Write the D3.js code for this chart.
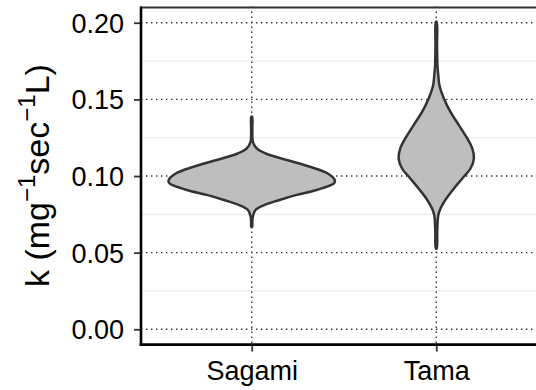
<!DOCTYPE html>
<html>
<head>
<meta charset="utf-8">
<script src="https://cdn.jsdelivr.net/npm/d3@7"></script>
<style>
  body { margin: 0; background: #fff; }
  svg { display: block; font-family: "Liberation Sans", Arial, sans-serif; }
</style>
</head>
<body>
<div id="chart"></div>
<script>
// categories on the x axis
let groups = ["Sagami", "Tama"];

// violin outlines: k value and kernel density at that k
let sagamiK       = [0.1386, 0.1300, 0.1223, 0.1180, 0.1147, 0.1103, 0.1059, 0.1016, 0.0973, 0.0955, 0.0940, 0.0907, 0.0875, 0.0842, 0.0809, 0.0777, 0.0733, 0.0700, 0.0668];
let sagamiDensity = [0.2,    0.3,    0.6,    2.5,    7.0,    18.0,   29.5,   38.0,   41.5,   41.3,   39.5,   32.0,   22.0,   13.5,   6.0,    1.8,    0.5,    0.3,    0.2];

let tamaK       = [0.2006, 0.1850, 0.1720, 0.1658, 0.1590, 0.1506, 0.1418, 0.1332, 0.1245, 0.1180, 0.1114, 0.1049, 0.0984, 0.0918, 0.0853, 0.0788, 0.0744, 0.0650, 0.0527];
let tamaDensity = [0.2,    0.4,    0.6,    1.0,    1.6,    3.8,    7.1,    11.3,   15.5,   18.0,   18.8,   17.1,   13.0,   8.8,    5.0,    2.1,    1.0,    0.5,    0.2];

// axis ticks
let majorTicks = [0.00, 0.05, 0.10, 0.15, 0.20];
let minorTicks = [0.025, 0.075, 0.125, 0.175];

let W = 536, H = 390;

let svg = d3.select("#chart")
  .append("svg")
  .attr("width", W)
  .attr("height", H);

// panel bounds
let pLeft = 141, pRight = 547, pTop = 6.5, pBottom = 344.6;

// y scale (data range 0..0.2006, expanded 5%)
let y = d3.scaleLinear()
  .domain([-0.0100, 0.2106])
  .range([pBottom, pTop]);

// discrete x scale, ggplot style 0.6 expansion
let x = d3.scalePoint()
  .domain(groups)
  .range([pLeft, pRight])
  .padding(0.6);

// violin width: the biggest density fills 0.9 of a category step
let maxDensity = d3.max(sagamiDensity.concat(tamaDensity));
let w = d3.scaleLinear()
  .domain([0, maxDensity])
  .range([0, x.step() * 0.45]);

let violins = [
  { name: "Sagami", pts: sagamiK.map((k, i) => [k, sagamiDensity[i]]) },
  { name: "Tama", pts: tamaK.map((k, i) => [k, tamaDensity[i]]) }
];

// minor grid
svg.append("g")
  .selectAll("line")
  .data(minorTicks)
  .enter().append("line")
  .attr("x1", pLeft).attr("x2", W)
  .attr("y1", d => y(d)).attr("y2", d => y(d))
  .attr("stroke", "#ebebeb")
  .attr("stroke-width", 1.1);

// major grid, dotted
svg.append("g")
  .selectAll("line")
  .data(majorTicks)
  .enter().append("line")
  .attr("x1", pLeft).attr("x2", W)
  .attr("y1", d => y(d)).attr("y2", d => y(d))
  .attr("stroke", "#333")
  .attr("stroke-width", 1.4)
  .attr("stroke-dasharray", "1.4,3.6");

svg.append("g")
  .selectAll("line")
  .data(groups)
  .enter().append("line")
  .attr("x1", d => x(d)).attr("x2", d => x(d))
  .attr("y1", pTop).attr("y2", pBottom)
  .attr("stroke", "#333")
  .attr("stroke-width", 1.4)
  .attr("stroke-dasharray", "1.4,3.6");

// violins
violins.forEach(function (v) {
  let cx = x(v.name);
  let rightSide = v.pts.map(p => [cx + w(p[1]), y(p[0])]);
  let leftSide = v.pts.slice().reverse().map(p => [cx - w(p[1]), y(p[0])]);
  let line = d3.line().curve(d3.curveCatmullRomClosed.alpha(0.5));
  svg.append("path")
    .attr("d", line(rightSide.concat(leftSide)))
    .attr("fill", "#bebebe")
    .attr("stroke", "#333")
    .attr("stroke-width", 2.5)
    .attr("stroke-linejoin", "round");
});

// top border of the panel
svg.append("line")
  .attr("x1", pLeft).attr("x2", W)
  .attr("y1", pTop + 1).attr("y2", pTop + 1)
  .attr("stroke", "#333")
  .attr("stroke-width", 1.8);

// y axis
let yAxis = svg.append("g")
  .attr("transform", "translate(" + pLeft + ",0)")
  .call(d3.axisLeft(y).tickValues(majorTicks).tickFormat(d3.format(".2f")).tickSize(7).tickPadding(10));
yAxis.select(".domain").remove();
yAxis.selectAll(".tick line").attr("stroke", "#333").attr("stroke-width", 1.8);
yAxis.selectAll(".tick text")
  .style("font-size", "27px")
  .style("font-family", "Liberation Sans, Arial, sans-serif")
  .attr("fill", "#000")
  .attr("dy", "0.35em");

// x axis
let xAxis = svg.append("g")
  .attr("transform", "translate(0," + pBottom + ")")
  .call(d3.axisBottom(x).tickSize(7).tickPadding(9));
xAxis.select(".domain").remove();
xAxis.selectAll(".tick line").attr("stroke", "#333").attr("stroke-width", 1.8);
xAxis.selectAll(".tick text")
  .style("font-size", "27px")
  .style("font-family", "Liberation Sans, Arial, sans-serif")
  .attr("fill", "#000");

// axis lines (black, thicker)
svg.append("line")
  .attr("x1", pLeft).attr("x2", pLeft)
  .attr("y1", pTop).attr("y2", pBottom + 1.3)
  .attr("stroke", "#000")
  .attr("stroke-width", 2.6);
svg.append("line")
  .attr("x1", pLeft - 1.3).attr("x2", W)
  .attr("y1", pBottom).attr("y2", pBottom)
  .attr("stroke", "#000")
  .attr("stroke-width", 2.6);

// y axis title with superscripts
let title = svg.append("text")
  .attr("transform", "translate(49," + ((pTop + pBottom) / 2) + ") rotate(-90)")
  .attr("text-anchor", "middle")
  .style("font-size", "34px")
  .attr("fill", "#000");
title.append("tspan").text("k (mg");
title.append("tspan").attr("dy", -14).style("font-size", "24px").text("\u22121");
title.append("tspan").attr("dy", 14).text("sec");
title.append("tspan").attr("dy", -14).style("font-size", "24px").text("\u22121");
title.append("tspan").attr("dy", 14).text("L)");
</script>
</body>
</html>
